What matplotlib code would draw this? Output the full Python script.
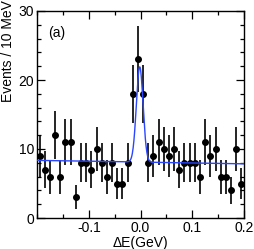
import numpy as np
import matplotlib
matplotlib.use('Agg')
import matplotlib.pyplot as plt
from matplotlib.ticker import MultipleLocator

# bin centres in GeV, 10 MeV bins
de_lo = -0.2
de_hi = 0.2
bin_width = 0.01
counts = [9, 7, 6, 12, 6, 11, 11, 3, 8, 8,
          7, 10, 8, 6, 8, 5, 5, 8, 18, 23,
          18, 8, 9, 11, 10, 9, 10, 7, 8, 8,
          8, 6, 11, 9, 10, 6, 6, 4, 10, 5]

# fit result: gaussian signal + linear background
sig_mean = -0.0015
sig_sigma = 0.0065
sig_amp = 13.8
bkg_left = 8.35
bkg_right = 7.85

plt.rcParams['font.family'] = ['Liberation Sans', 'DejaVu Sans']
plt.rcParams['font.size'] = 10

centers = np.arange(de_lo + bin_width / 2, de_hi, bin_width)[:len(counts)]
n = np.array(counts, dtype=float)
err = np.sqrt(n)

xs = np.linspace(de_lo, de_hi, 800)
bkg = bkg_left + (bkg_right - bkg_left) * (xs - de_lo) / (de_hi - de_lo)
fit = bkg + sig_amp * np.exp(-0.5 * ((xs - sig_mean) / sig_sigma) ** 2)

fig = plt.figure(figsize=(2.55, 2.49), dpi=100)
ax = fig.add_axes([37 / 255, 31 / 249, 207 / 255, 207 / 249])

ax.errorbar(centers, n, yerr=err, fmt='o', color='black', ms=4.0,
            elinewidth=1.2, capsize=0, zorder=2)
ax.plot(xs, fit, color='#2a46ff', lw=1.0, zorder=3)

ax.set_xlim(de_lo, de_hi)
ax.set_ylim(0, 30)
ax.xaxis.set_major_locator(MultipleLocator(0.1))
ax.xaxis.set_minor_locator(MultipleLocator(0.05))
ax.yaxis.set_major_locator(MultipleLocator(10))
ax.yaxis.set_minor_locator(MultipleLocator(2))
ax.tick_params(which='both', direction='in', top=True, right=True,
               width=0.9, pad=2)
ax.tick_params(which='major', length=6)
ax.tick_params(which='minor', length=3)
ax.set_xticks([-0.1, 0.0, 0.1, 0.2])
ax.set_xticklabels(['-0.1', '0.0', '0.1', '0.2'])
for s in ax.spines.values():
    s.set_linewidth(1.0)

ax.set_xlabel('\u0394E(GeV)', labelpad=1)
fig.text(8 / 255, 1.0, 'Events / 10 MeV', rotation=90,
         ha='center', va='top')
ax.text(-0.178, 26.8, '(a)', ha='left', va='center')

fig.savefig('out.png', dpi=100)
